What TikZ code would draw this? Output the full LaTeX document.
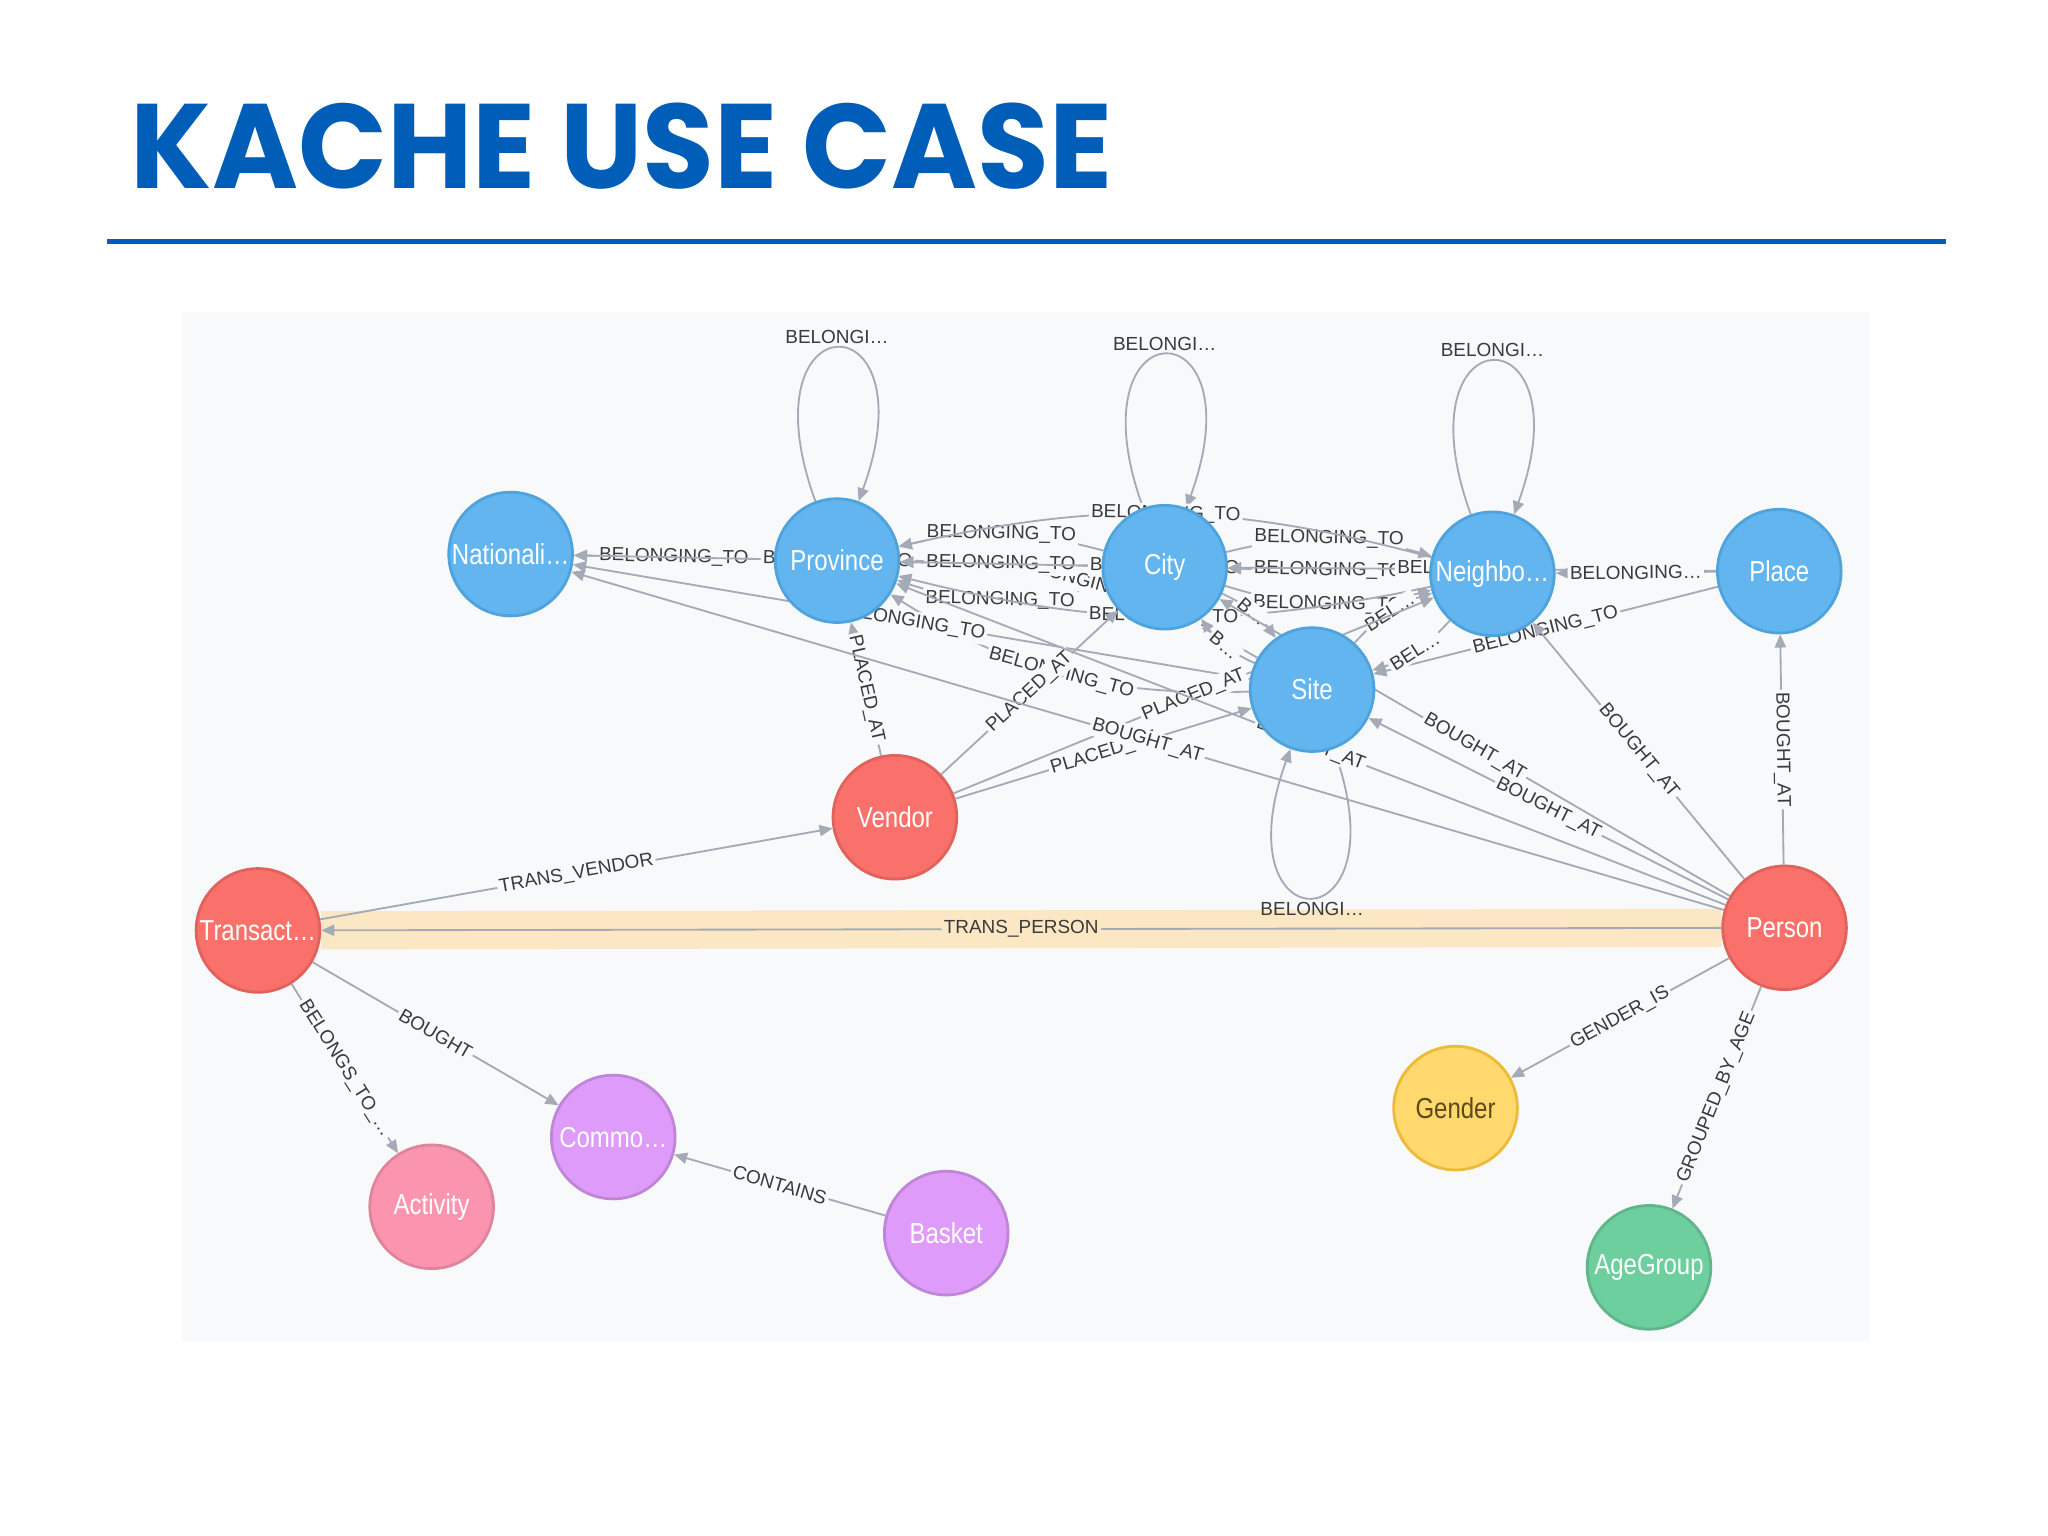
\documentclass[tikz,border=0pt]{standalone}
\usepackage{graphicx}
\usepackage{fontspec}
\setmainfont{Liberation Sans}
\newfontfamily\titlefont{Poppins}
\usetikzlibrary{arrows.meta}
\pgfdeclarelayer{bglayer}
\pgfdeclarelayer{edgelayer}
\pgfsetlayers{bglayer,edgelayer,main}
\definecolor{titleblue}{HTML}{005EB8}
\definecolor{panelbg}{HTML}{F8F9FB}
\definecolor{edgegray}{HTML}{A5ABB6}
\definecolor{labeltext}{HTML}{3A3A3A}
\definecolor{bandcol}{HTML}{FBE7C3}
\definecolor{bluefill}{HTML}{62B5EF}
\definecolor{blueline}{HTML}{4FA3DD}
\definecolor{redfill}{HTML}{F9716A}
\definecolor{redline}{HTML}{E0625C}
\definecolor{yelfill}{HTML}{FFD86E}
\definecolor{yelline}{HTML}{EDBA39}
\definecolor{grnfill}{HTML}{6DCE9E}
\definecolor{grnline}{HTML}{60B58B}
\definecolor{pinkfill}{HTML}{FB95AF}
\definecolor{pinkline}{HTML}{E0849B}
\definecolor{purpfill}{HTML}{DE9BF9}
\definecolor{purpline}{HTML}{BF85D6}
\definecolor{gendertext}{HTML}{5C4A1C}
\newcommand\nlab[1]{\scalebox{0.83}[1]{#1}}
\begin{document}
\begin{tikzpicture}[x=0.02cm,y=-0.02cm,
  gnode/.style={circle, minimum size=1.88cm, inner sep=0pt, line width=1.2pt,
    font=\fontsize{12.5}{13}\selectfont, text=white},
  bluenode/.style={gnode, fill=bluefill, draw=blueline},
  rednode/.style={gnode, fill=redfill, draw=redline},
  yelnode/.style={gnode, fill=yelfill, draw=yelline, text=gendertext},
  grnnode/.style={gnode, fill=grnfill, draw=grnline},
  pinknode/.style={gnode, fill=pinkfill, draw=pinkline},
  purpnode/.style={gnode, fill=purpfill, draw=purpline},
  rel/.style={draw=edgegray, line width=0.8pt, -{Triangle[length=0.2cm,width=0.17cm]}},
  rlab/.style={font=\fontsize{8.2}{9}\selectfont, text=labeltext, fill=panelbg,
    inner sep=1pt, sloped, midway},
  looplab/.style={font=\fontsize{8.2}{9}\selectfont, text=labeltext, inner sep=1.5pt},
]
\begin{pgfonlayer}{bglayer}
\fill[white] (0,0) rectangle (1556.2,1167.1);
% panel
\fill[panelbg] (138,237) rectangle (1420,1019);
% rule
\fill[titleblue] (81,181.6) rectangle (1479,185.6);
\end{pgfonlayer}
\useasboundingbox (0,0) rectangle (1556.2,1167.1);

% title
\node[anchor=south west, inner sep=0pt, text=titleblue] (title) at (99,144)
  {\resizebox{14.92cm}{1.3cm}{\titlefont\bfseries KACHE USE CASE}};

% nodes
\node[bluenode] (nat) at (388,421) {\nlab{Nationali…}};
\node[bluenode] (prov) at (636,426) {\nlab{Province}};
\node[bluenode] (city) at (885,431) {\nlab{City}};
\node[bluenode] (nei) at (1134,436) {\nlab{Neighbo…}};
\node[bluenode] (place) at (1352,434) {\nlab{Place}};
\node[bluenode] (site) at (997,524) {\nlab{Site}};
\node[rednode] (vendor) at (680,621) {\nlab{Vendor}};
\node[rednode] (trans) at (196,707) {\nlab{Transact…}};
\node[rednode] (person) at (1356,705) {\nlab{Person}};
\node[yelnode] (gender) at (1106,842) {\nlab{Gender}};
\node[grnnode] (age) at (1253,963) {\nlab{AgeGroup}};
\node[pinknode] (act) at (328,917) {\nlab{Activity}};
\node[purpnode] (commo) at (466,864) {\nlab{Commo…}};
\node[purpnode] (basket) at (719,937) {\nlab{Basket}};

\begin{pgfonlayer}{edgelayer}
% highlight band
\draw[bandcol, line width=0.58cm] (trans) -- (person);

% self loops
\draw[rel] (prov.110) .. controls +(110:3.3cm) and +(70:3.3cm) .. node[pos=0.5, above, looplab]{BELONGI…} (prov.70);
\draw[rel] (city.110) .. controls +(110:3.3cm) and +(70:3.3cm) .. node[pos=0.5, above, looplab]{BELONGI…} (city.70);
\draw[rel] (nei.110) .. controls +(110:3.3cm) and +(70:3.3cm) .. node[pos=0.5, above, looplab]{BELONGI…} (nei.70);
\draw[rel] (site.-70) .. controls +(-70:3.2cm) and +(-110:3.2cm) .. node[pos=0.5, below, looplab]{BELONGI…} (site.-110);

% curved belonging edges
\draw[rel] (city) to[bend right=14] node[rlab]{BELONGING\_TO} (prov);
\draw[rel] (city) to[bend left=17] node[rlab]{BELONGING\_TO} (prov);
\draw[rel] (city) to[bend left=15] node[rlab]{BELONGING\_TO} (nei);
\draw[rel] (city) to[bend right=16] node[rlab]{BELONGING\_TO} (nei);
\draw[rel] (site) to[bend right=15] node[rlab]{BELONGING\_TO} (prov);
\draw[rel] (site) to[bend left=17] node[rlab]{BELONGING\_TO} (prov);
\draw[rel] (nei) to[bend right=14] node[rlab]{BELONGING\_TO} (prov);
\draw[rel] (nei) to[bend left=13] node[rlab]{BELONGING\_TO} (prov);
\draw[rel] (site) -- node[rlab]{BELONGING\_TO} (nat);
\draw[rel] (place) -- node[rlab]{BELONGING\_TO} (site);
\draw[rel] (city) to[bend left=15] node[rlab]{B…} (site);
\draw[rel] (site) to[bend left=15] node[rlab]{B…} (city);
\draw[rel] (site) to[bend left=15] node[rlab]{BEL…} (nei);
\draw[rel] (nei) to[bend left=15] node[rlab]{BEL…} (site);

% straight chain
\draw[rel] (prov) -- node[rlab]{BELONGING\_TO} (nat);
\draw[rel] (city) -- node[rlab]{BELONGING\_TO} (nat);
\draw[rel] (city) -- node[rlab]{BELONGING\_TO} (prov);
\draw[rel] (nei) -- node[rlab]{BELONGING\_TO} (prov);
\draw[rel] (nei) -- node[rlab]{BELONGING\_TO} (city);
\draw[rel] (place) -- node[rlab]{BELONGING\_TO} (city);
\draw[rel] (place) -- node[rlab]{BELONGING…} (nei);

% vendor
\draw[rel] (vendor) -- node[rlab]{PLACED\_AT} (prov);
\draw[rel] (vendor) -- node[rlab]{PLACED\_AT} (city);
\draw[rel] (vendor) -- node[rlab]{PLACED\_AT} (site);
\draw[rel] (vendor) -- node[rlab]{PLACED\_AT} (nei);

% person
\draw[rel] (person) -- node[rlab]{BOUGHT\_AT} (place);
\draw[rel] (person) -- node[rlab]{BOUGHT\_AT} (nei);
\draw[rel] (person) -- node[rlab]{BOUGHT\_AT} (city);
\draw[rel] (person) -- node[rlab]{BOUGHT\_AT} (site);
\draw[rel] (person) -- node[rlab]{BOUGHT\_AT} (prov);
\draw[rel] (person) -- node[rlab]{BOUGHT\_AT} (nat);
\draw[rel] (person) -- node[rlab, fill=bandcol]{TRANS\_PERSON} (trans);
\draw[rel] (person) -- node[rlab]{GENDER\_IS} (gender);
\draw[rel] (person) -- node[rlab]{GROUPED\_BY\_AGE} (age);

% transaction
\draw[rel] (trans) -- node[rlab]{TRANS\_VENDOR} (vendor);
\draw[rel] (trans) -- node[rlab]{BOUGHT} (commo);
\draw[rel] (trans) -- node[rlab]{BELONGS\_TO\_…} (act);
\draw[rel] (basket) -- node[rlab]{CONTAINS} (commo);
\end{pgfonlayer}
\end{tikzpicture}
\end{document}
